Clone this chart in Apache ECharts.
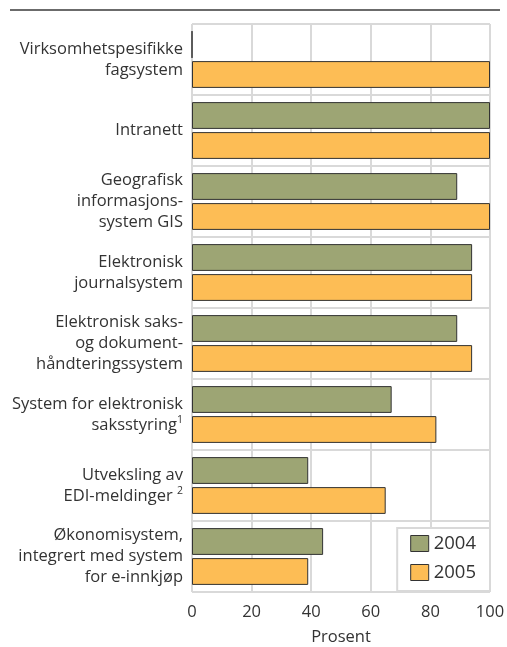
<!DOCTYPE html>
<html><head><meta charset="utf-8">
<script src="https://cdn.jsdelivr.net/npm/echarts@6/dist/echarts.min.js"></script>
<style>html,body{margin:0;padding:0;background:#fff}#c{width:507px;height:647px}</style>
</head><body><div id="c"></div>
<script>
const categories = [
  "Virksomhetspesifikke\nfagsystem",
  "Intranett",
  "Geografisk\ninformasjons-\nsystem GIS",
  "Elektronisk\njournalsystem",
  "Elektronisk saks-\nog dokument-\nhåndteringssystem",
  "System for elektronisk\nsaksstyring{sup|1}",
  "Utveksling av\nEDI-meldinger {sup|2}",
  "Økonomisystem,\nintegrert med system\nfor e-innkjøp"
];
const values2004 = [0, 100, 89, 94, 89, 67, 39, 44];
const values2005 = [100, 100, 100, 94, 94, 82, 65, 39];
const xTicks = [0, 20, 40, 60, 80, 100];
const seriesNames = ["2004", "2005"];

const font = "'Open Sans', 'Noto Sans', sans-serif";
const chart = echarts.init(document.getElementById('c'), null, {renderer: 'canvas'});
const barStyle = (color) => ({color: color, borderColor: '#333', borderWidth: 1});
chart.setOption({
  animation: false,
  textStyle: {fontFamily: font},
  graphic: [{type: 'line', shape: {x1: 10, y1: 10, x2: 500, y2: 10}, style: {stroke: '#6b6b6b', lineWidth: 2}}],
  grid: {left: 192, right: 17, top: 24, bottom: 55, containLabel: false, outerBoundsMode: 'none'},
  xAxis: {
    type: 'value', min: xTicks[0], max: xTicks[xTicks.length - 1], interval: 20,
    axisLine: {show: false}, axisTick: {show: false},
    splitLine: {show: true, lineStyle: {color: '#d9d9d9', width: 2}},
    axisLabel: {color: '#333', fontSize: 16.5, margin: 12, fontFamily: font},
    name: 'Prosent', nameLocation: 'middle', nameGap: 37,
    nameTextStyle: {color: '#333', fontSize: 16.5, fontFamily: font}
  },
  yAxis: {
    type: 'category', data: categories, inverse: true,
    axisLine: {show: false}, axisTick: {show: false},
    splitLine: {show: true, lineStyle: {color: '#d9d9d9', width: 2}},
    axisLabel: {
      color: '#333', fontSize: 16.5, lineHeight: 21, margin: 9, align: 'right', fontFamily: font,
      rich: {sup: {fontSize: 10.5, verticalAlign: 'top', lineHeight: 21, color: '#333', fontFamily: font, padding: [0,0,3,0]}}
    }
  },
  legend: {
    orient: 'vertical', right: 17, bottom: 56,
    data: seriesNames,
    itemWidth: 18, itemHeight: 16, itemGap: 10,
    padding: [6, 14, 9, 13],
    borderColor: '#d9d9d9', borderWidth: 2, backgroundColor: '#fff',
    textStyle: {color: '#333', fontSize: 18.5, fontFamily: font},
    icon: 'rect',
    itemStyle: {borderColor: '#333', borderWidth: 1}
  },
  series: [
    {name: seriesNames[0], type: 'bar', data: values2004, barCategoryGap: '20%', barGap: '12%', itemStyle: barStyle('#9da574')},
    {name: seriesNames[1], type: 'bar', data: values2005, barCategoryGap: '20%', barGap: '12%', itemStyle: barStyle('#fdbd55')}
  ]
});
</script></body></html>
